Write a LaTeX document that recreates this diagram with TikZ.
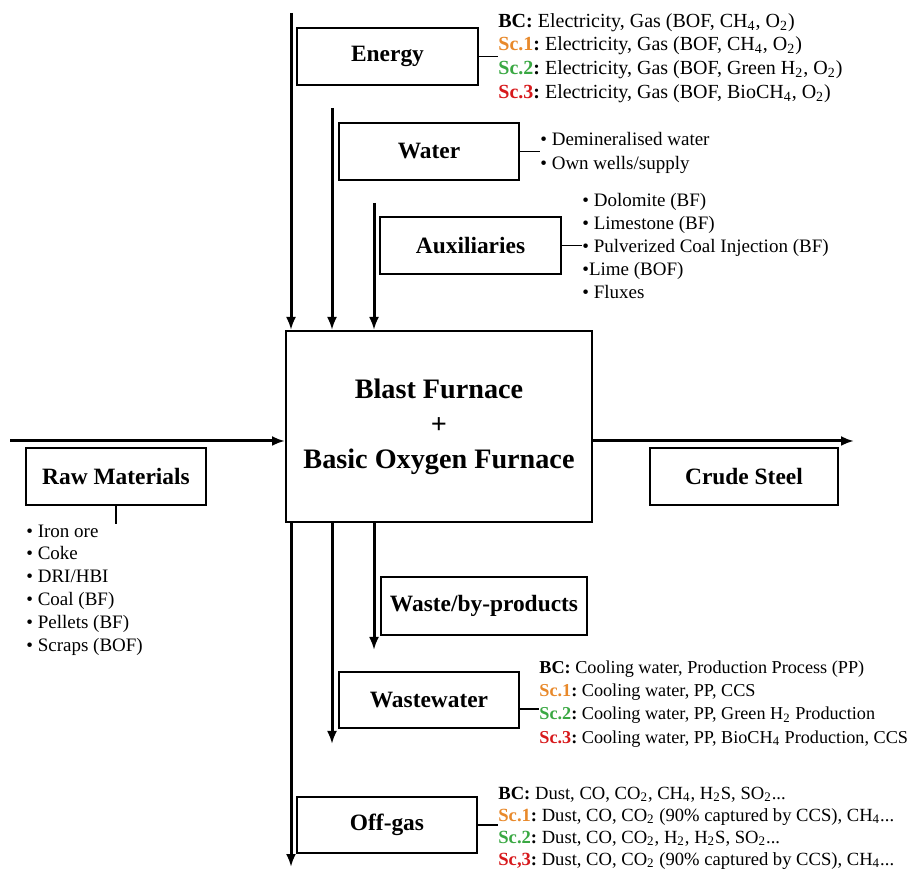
\documentclass[tikz,border=0pt]{standalone}
\usepackage{fontspec}
\setmainfont{Liberation Serif}
\usepackage{xcolor}
\usepackage{tikz}
\usetikzlibrary{arrows.meta,positioning,calc}

\definecolor{scone}{HTML}{E8892B}
\definecolor{sctwo}{HTML}{3AA843}
\definecolor{scthree}{HTML}{D7191C}
\newcommand{\bcTag}{\textbf{BC:}\ }
\newcommand{\scTag}[2]{\textbf{\textcolor{#1}{#2}:}\ }

\begin{document}
\begin{tikzpicture}[x=0.5pt, y=-0.5pt, >={Latex[length=6.5pt,width=5pt]},
  box/.style={draw, line width=1pt, inner sep=0pt, align=center, minimum width=90.5pt, minimum height=28.5pt,
    font=\fontsize{11.7}{14}\selectfont\bfseries},
  furnace/.style={draw, line width=1pt, inner sep=0pt, align=center, minimum width=153pt, minimum height=95.5pt,
    font=\fontsize{14.1}{17.5}\selectfont\bfseries},
  list/.style={anchor=west, inner sep=0pt, align=left, font=\fontsize{9.5}{11.6}\selectfont},
  flow/.style={->, line width=1.5pt},
  link/.style={line width=0.8pt}]

\useasboundingbox (0,0) rectangle (921,870);

\node[furnace] (main) at (439,426.5) {Blast Furnace\\+\\Basic Oxygen Furnace};

% inputs
\node[box] (energy) at (387.5,56.5) {Energy};
\node[box, minimum width=90pt] (water) at (429,151.5) {Water};
\node[box] (aux) at (470.5,245.5) {Auxiliaries};
\node[box, minimum width=90pt] (raw) at (116,476.5) {Raw Materials};

% outputs
\node[box, minimum width=94pt] (steel) at (744,476.5) {Crude Steel};
\node[box, minimum width=103pt, minimum height=29pt] (waste) at (484,606) {Waste/by-products};
\node[box, minimum width=90pt, minimum height=28pt] (wastewater) at (429,700) {Wastewater};
\node[box, minimum width=90pt, minimum height=28pt] (offgas) at (387,825) {Off-gas};

% lists
\node[list, font=\fontsize{10}{11.8}\selectfont] (energyTxt) at (498,58) {\bcTag Electricity, Gas (BOF, CH\textsubscript{4}, O\textsubscript{2})\\
  \scTag{scone}{Sc.1}Electricity, Gas (BOF, CH\textsubscript{4}, O\textsubscript{2})\\
  \scTag{sctwo}{Sc.2}Electricity, Gas (BOF, Green H\textsubscript{2}, O\textsubscript{2})\\
  \scTag{scthree}{Sc.3}Electricity, Gas (BOF, BioCH\textsubscript{4}, O\textsubscript{2})};
\node[list] (waterTxt) at (540,153) {\textbullet\ Demineralised water\\\textbullet\ Own wells/supply};
\node[list] (auxTxt) at (582,246) {\textbullet\ Dolomite (BF)\\\textbullet\ Limestone (BF)\\
  \textbullet\ Pulverized Coal Injection (BF)\\\textbullet Lime (BOF)\\\textbullet\ Fluxes};
\node[list, font=\fontsize{9.5}{11.4}\selectfont] (rawTxt) at (26,590) {\textbullet\ Iron ore\\\textbullet\ Coke\\
  \textbullet\ DRI/HBI\\\textbullet\ Coal (BF)\\\textbullet\ Pellets (BF)\\\textbullet\ Scraps (BOF)};
\node[list, font=\fontsize{9.1}{11.6}\selectfont] (wastewaterTxt) at (539,704) {\bcTag Cooling water, Production Process (PP)\\
  \scTag{scone}{Sc.1}Cooling water, PP, CCS\\
  \scTag{sctwo}{Sc.2}Cooling water, PP, Green H\textsubscript{2} Production\\
  \scTag{scthree}{Sc.3}Cooling water, PP, BioCH\textsubscript{4} Production, CCS};
\node[list, font=\fontsize{9.3}{11}\selectfont] (offgasTxt) at (498,828) {\bcTag Dust, CO, CO\textsubscript{2}, CH\textsubscript{4}, H\textsubscript{2}S, SO\textsubscript{2}...\\
  \scTag{scone}{Sc.1}Dust, CO, CO\textsubscript{2} (90\% captured by CCS), CH\textsubscript{4}...\\
  \scTag{sctwo}{Sc.2}Dust, CO, CO\textsubscript{2}, H\textsubscript{2}, H\textsubscript{2}S, SO\textsubscript{2}...\\
  \scTag{scthree}{Sc,3}Dust, CO, CO\textsubscript{2} (90\% captured by CCS), CH\textsubscript{4}...};

% arrow ends
\coordinate (energyTop) at (291,13);
\coordinate (waterTop) at (332,108);
\coordinate (auxTop) at (374,203);
\coordinate (rawIn) at (10,441);
\coordinate (steelOut) at (854,441);
\coordinate (wasteEnd) at (374,650);
\coordinate (wastewaterEnd) at (332,744);
\coordinate (offgasEnd) at (291,867);

\draw[flow] (energyTop) -- (energyTop |- main.north);
\draw[flow] (waterTop) -- (waterTop |- main.north);
\draw[flow] (auxTop) -- (auxTop |- main.north);
\draw[flow] (rawIn) -- (rawIn -| main.west);
\draw[flow] (main.east |- steelOut) -- (steelOut);
\draw[flow] (main.south -| wasteEnd) -- (wasteEnd);
\draw[flow] (main.south -| wastewaterEnd) -- (wastewaterEnd);
\draw[flow] (main.south -| offgasEnd) -- (offgasEnd);

\draw[link] (energy.east) -- (energy.east -| energyTxt.west);
\draw[link] (water.east) -- (water.east -| waterTxt.west);
\draw[link] (aux.east) -- (aux.east -| auxTxt.west);
\draw[link] ([yshift=-4.5pt]wastewater.east) -- ([yshift=-4.5pt]wastewater.east -| wastewaterTxt.west);
\draw[link] (offgas.east) -- (offgas.east -| offgasTxt.west);
\draw[link] (raw.south) -- (raw.south |- rawTxt.north);
\end{tikzpicture}
\end{document}
